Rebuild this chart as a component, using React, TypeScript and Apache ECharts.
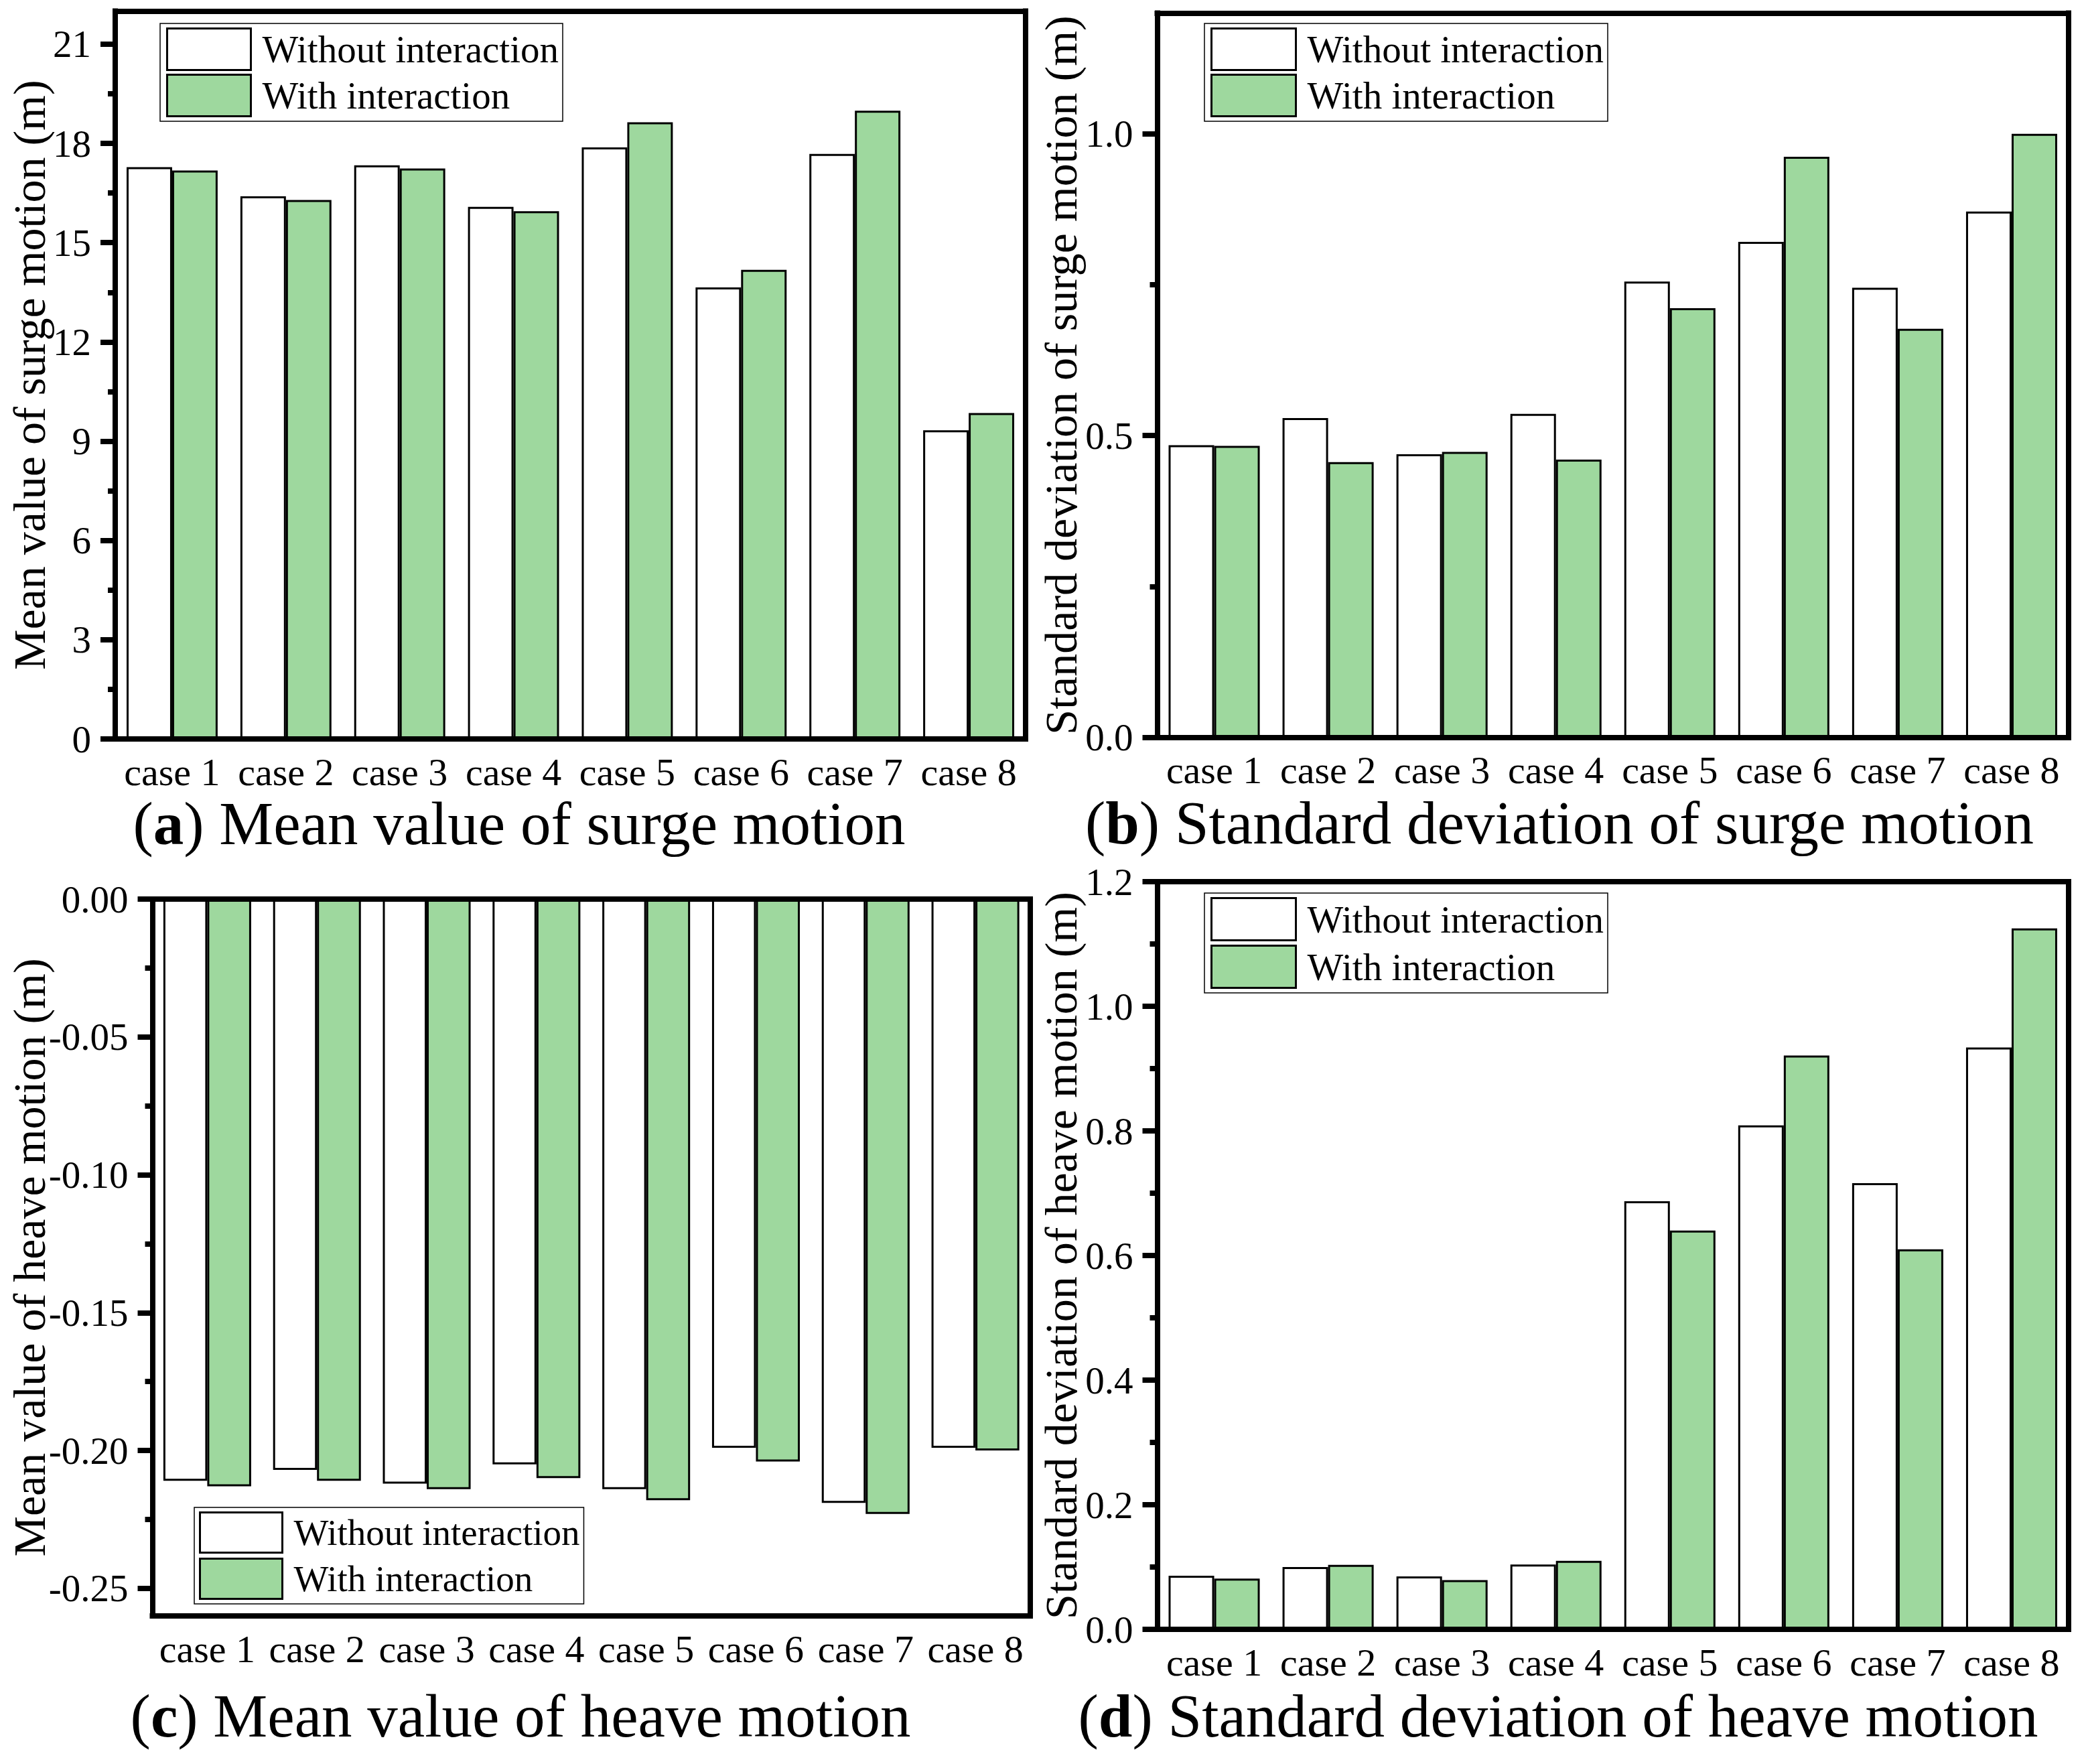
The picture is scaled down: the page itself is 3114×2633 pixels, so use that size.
import React, { useEffect, useRef } from 'react';
import * as echarts from 'echarts';

const caseLabels = ['case 1', 'case 2', 'case 3', 'case 4', 'case 5', 'case 6', 'case 7', 'case 8'];
const legendNames = ['Without interaction', 'With interaction'];

const surgeMeanWithout = [17.28, 16.4, 17.34, 16.08, 17.88, 13.65, 17.68, 9.33];
const surgeMeanWith = [17.18, 16.29, 17.24, 15.95, 18.64, 14.18, 18.99, 9.85];

const surgeStdWithout = [0.484, 0.529, 0.469, 0.536, 0.755, 0.821, 0.745, 0.871];
const surgeStdWith = [0.483, 0.456, 0.473, 0.46, 0.711, 0.962, 0.677, 1.0];

const heaveMeanWithout = [-0.211, -0.207, -0.212, -0.205, -0.214, -0.199, -0.219, -0.199];
const heaveMeanWith = [-0.213, -0.211, -0.214, -0.21, -0.218, -0.204, -0.223, -0.2];

const heaveStdWithout = [0.086, 0.1, 0.085, 0.104, 0.687, 0.809, 0.716, 0.934];
const heaveStdWith = [0.0815, 0.1035, 0.079, 0.11, 0.64, 0.921, 0.61, 1.125];

const surgeMeanTicks = [0, 3, 6, 9, 12, 15, 18, 21];
const surgeMeanMinorTicks = [1.5, 4.5, 7.5, 10.5, 13.5, 16.5, 19.5];
const surgeStdTicks = [0, 0.5, 1.0];
const surgeStdMinorTicks = [0.25, 0.75];
const heaveMeanTicks = [0, -0.05, -0.1, -0.15, -0.2, -0.25];
const heaveMeanMinorTicks = [-0.025, -0.075, -0.125, -0.175, -0.225];
const heaveStdTicks = [0, 0.2, 0.4, 0.6, 0.8, 1.0, 1.2];
const heaveStdMinorTicks = [0.1, 0.3, 0.5, 0.7, 0.9, 1.1];

const FONT = '"Liberation Serif", "Times New Roman", serif';
const GREEN = '#9ED89E';
const BLACK = '#000000';

const panels = [
  {
    left: 172, top: 16.5, width: 1359, height: 1086.5,
    min: 0, max: 22, ticks: surgeMeanTicks, minor: surgeMeanMinorTicks, decimals: 0,
    yName: 'Mean value of surge motion (m)', nameGap: 94,
    without: surgeMeanWithout, withI: surgeMeanWith,
    legend: { left: 239, top: 35, itemWidth: 125, itemHeight: 62, itemGap: 4, fontSize: 57, padding: [6, 6, 6, 9] },
    sub: { letter: 'a', text: ' Mean value of surge motion', x: 775, y: 1229 },
  },
  {
    left: 1727.5, top: 19.5, width: 1360.5, height: 1081,
    min: 0, max: 1.2, ticks: surgeStdTicks, minor: surgeStdMinorTicks, decimals: 1,
    yName: 'Standard deviation of surge motion (m)', nameGap: 110,
    without: surgeStdWithout, withI: surgeStdWith,
    legend: { left: 1798, top: 35, itemWidth: 126, itemHeight: 62, itemGap: 4, fontSize: 57, padding: [6, 6, 6, 9] },
    sub: { letter: 'b', text: ' Standard deviation of surge motion', x: 2328, y: 1228 },
  },
  {
    left: 227.5, top: 1342, width: 1310.5, height: 1070,
    min: -0.26, max: 0, ticks: heaveMeanTicks, minor: heaveMeanMinorTicks, decimals: 2,
    yName: 'Mean value of heave motion (m)', nameGap: 150,
    without: heaveMeanWithout, withI: heaveMeanWith,
    legend: { left: 290, top: 2250, itemWidth: 123, itemHeight: 60, itemGap: 6, fontSize: 55, padding: [6, 6, 6, 7] },
    sub: { letter: 'c', text: ' Mean value of heave motion', x: 777, y: 2561 },
  },
  {
    left: 1727.5, top: 1316, width: 1360.5, height: 1116,
    min: 0, max: 1.2, ticks: heaveStdTicks, minor: heaveStdMinorTicks, decimals: 1,
    yName: 'Standard deviation of heave motion (m)', nameGap: 110,
    without: heaveStdWithout, withI: heaveStdWith,
    legend: { left: 1798, top: 1333, itemWidth: 126, itemHeight: 63, itemGap: 5, fontSize: 57, padding: [6, 6, 6, 9] },
    sub: { letter: 'd', text: ' Standard deviation of heave motion', x: 2326, y: 2561 },
  },
];

export default function App() {
  const ref = useRef<HTMLDivElement>(null);

  useEffect(() => {
    if (!ref.current) return;
    const chart = echarts.init(ref.current, null, { renderer: 'svg' });

    const frameLine = { color: BLACK, width: 8, cap: 'square' };
    const grid: any[] = [];
    const xAxis: any[] = [];
    const yAxis: any[] = [];
    const series: any[] = [];
    const legend: any[] = [];
    const graphic: any[] = [];

    panels.forEach((p, i) => {
      grid.push({ left: p.left, top: p.top, width: p.width, height: p.height, show: false });
      xAxis.push({
        type: 'category', gridIndex: i, data: caseLabels, position: 'bottom', z: 5,
        axisLine: { show: true, onZero: false, lineStyle: frameLine },
        axisTick: { show: false },
        axisLabel: { interval: 0, color: BLACK, fontFamily: FONT, fontSize: 58, margin: 20 },
        splitLine: { show: false },
      });
    });
    panels.forEach((p, i) => {
      xAxis.push({
        type: 'category', gridIndex: i, data: caseLabels, position: 'top', z: 5,
        axisLine: { show: true, onZero: false, lineStyle: frameLine },
        axisTick: { show: false },
        axisLabel: { show: false },
        splitLine: { show: false },
      });
    });
    panels.forEach((p, i) => {
      yAxis.push({
        type: 'value', gridIndex: i, position: 'left', min: p.min, max: p.max, z: 5,
        axisLine: { show: true, onZero: false, lineStyle: frameLine },
        axisTick: { show: true, length: 22, customValues: p.ticks, lineStyle: { color: BLACK, width: 8 } },
        axisLabel: {
          show: true, customValues: p.ticks, color: BLACK, fontFamily: FONT, fontSize: 57, margin: 36,
          formatter: (v: number) => Number(v).toFixed(p.decimals),
        },
        splitLine: { show: false },
        name: p.yName, nameLocation: 'middle', nameGap: p.nameGap, nameMoveOverlap: false,
        nameTextStyle: { color: BLACK, fontFamily: FONT, fontSize: 68 },
      });
    });
    panels.forEach((p, i) => {
      yAxis.push({
        type: 'value', gridIndex: i, position: 'left', min: p.min, max: p.max, z: 5,
        axisLine: { show: false },
        axisTick: { show: true, length: 11, customValues: p.minor, lineStyle: { color: BLACK, width: 8 } },
        axisLabel: { show: false },
        splitLine: { show: false },
      });
    });
    panels.forEach((p, i) => {
      yAxis.push({
        type: 'value', gridIndex: i, position: 'right', min: p.min, max: p.max, z: 5,
        axisLine: { show: true, onZero: false, lineStyle: frameLine },
        axisTick: { show: false },
        axisLabel: { show: false },
        splitLine: { show: false },
      });
    });

    panels.forEach((p, i) => {
      series.push({
        name: legendNames[0], type: 'bar', xAxisIndex: i, yAxisIndex: i, data: p.without,
        barGap: '0%', barCategoryGap: '20%',
        itemStyle: { color: '#ffffff', borderColor: BLACK, borderWidth: 3 },
        emphasis: { disabled: true },
      });
      series.push({
        name: legendNames[1], type: 'bar', xAxisIndex: i, yAxisIndex: i, data: p.withI,
        barGap: '0%', barCategoryGap: '20%',
        itemStyle: { color: GREEN, borderColor: BLACK, borderWidth: 3 },
        emphasis: { disabled: true },
      });
      legend.push({
        data: legendNames, orient: 'vertical', left: p.legend.left, top: p.legend.top,
        icon: 'rect', itemWidth: p.legend.itemWidth, itemHeight: p.legend.itemHeight,
        itemGap: p.legend.itemGap, padding: p.legend.padding,
        borderColor: BLACK, borderWidth: 1.5, selectedMode: false, z: 6,
        itemStyle: { borderColor: BLACK, borderWidth: 3 },
        textStyle: {
          color: BLACK, fontFamily: FONT, fontSize: p.legend.fontSize,
          padding: [0, 0, 0, 12],
        },
      });
      graphic.push({
        type: 'text', x: p.sub.x, y: p.sub.y, z: 10,
        style: {
          text: `{n|(}{b|${p.sub.letter}}{n|)${p.sub.text}}`,
          align: 'center', textAlign: 'center', verticalAlign: 'middle', textVerticalAlign: 'middle',
          fill: BLACK,
          rich: {
            n: { fontFamily: FONT, fontSize: 91, fill: BLACK, lineHeight: 100 },
            b: { fontFamily: FONT, fontSize: 91, fontWeight: 'bold', fill: BLACK, lineHeight: 100 },
          },
        },
      });
    });

    chart.setOption({
      animation: false,
      backgroundColor: '#ffffff',
      grid, xAxis, yAxis, series, legend, graphic,
    });

    return () => chart.dispose();
  }, []);

  return (
    <div
      ref={ref}
      style={{ position: 'absolute', left: 0, top: 0, width: 3114, height: 2633 }}
    />
  );
}
